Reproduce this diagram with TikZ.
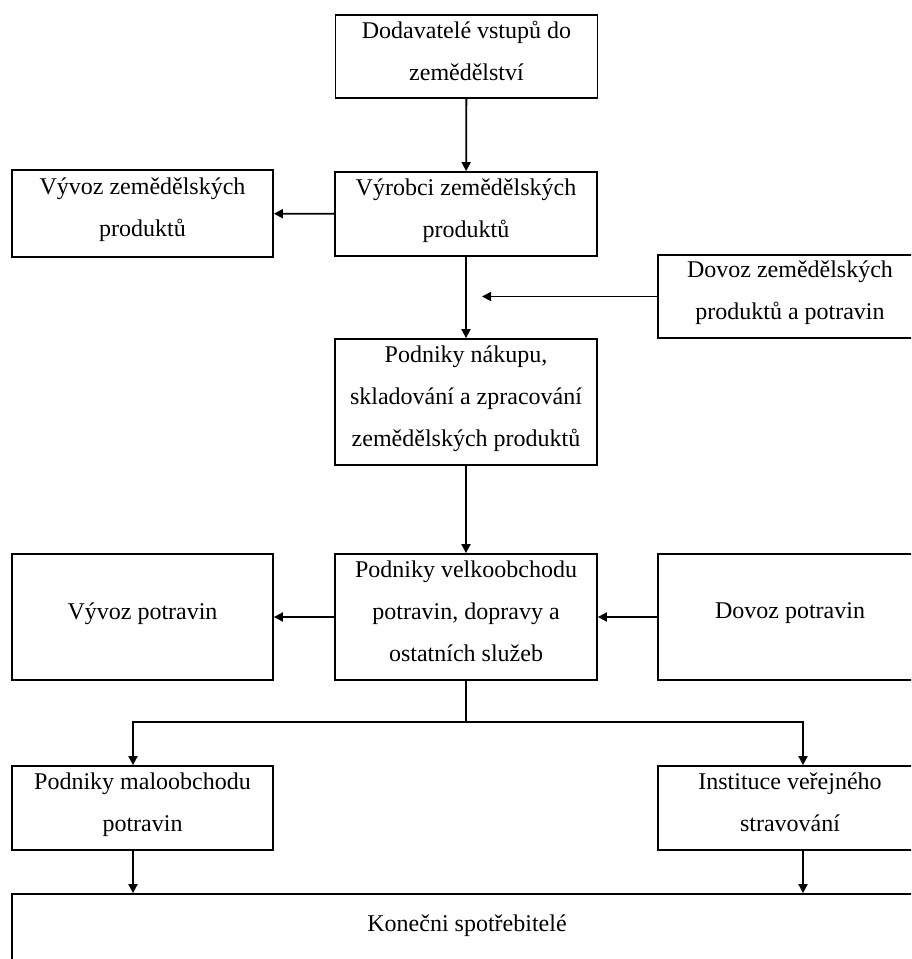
\documentclass[tikz,border=0pt]{standalone}
\usepackage{fontspec}
\setmainfont{Liberation Serif}
\usetikzlibrary{arrows.meta}

\tikzset{
    box/.style={draw, line width=0.9pt, align=center, inner sep=2pt,
        text depth=6pt, font=\fontsize{12}{21}\selectfont},
    arr/.style={line width=0.9pt, -{Triangle[length=4.5pt,width=4.5pt]}}
}

\begin{document}
\begin{tikzpicture}[x=0.5pt,y=-0.5pt]
    % Frame
    \useasboundingbox (0,0) rectangle (911,959);
    \clip (0,0) rectangle (911,959);

    % Boxes
    \node[box, minimum width=131pt, minimum height=41.5pt] (sup) at (466.5,56.5)
        {Dodavatelé vstupů do\\zemědělství};
    \node[box, minimum width=131pt, minimum height=42pt] (prod) at (466,214)
        {Výrobci zemědělských\\produktů};
    \node[box, minimum width=130.5pt, minimum height=43.5pt] (expag) at (142.5,213.5)
        {Vývoz zemědělských\\produktů};
    \node[box, minimum width=132pt, minimum height=41.5pt] (impag) at (790,296.5)
        {Dovoz zemědělských\\produktů a potravin};
    \node[box, minimum width=131pt, minimum height=63pt] (proc) at (466,402)
        {Podniky nákupu,\\skladování a zpracování\\zemědělských produktů};
    \node[box, minimum width=130.5pt, minimum height=63pt] (expfood) at (142.5,617)
        {Vývoz potravin};
    \node[box, minimum width=131pt, minimum height=63pt] (whole) at (466,617)
        {Podniky velkoobchodu\\potravin, dopravy a\\ostatních služeb};
    \node[box, minimum width=132pt, minimum height=63pt] (impfood) at (790,617)
        {Dovoz potravin};
    \node[box, minimum width=130.5pt, minimum height=42pt] (retail) at (142.5,808)
        {Podniky maloobchodu\\potravin};
    \node[box, minimum width=132pt, minimum height=42pt] (catering) at (790,808)
        {Instituce veřejného\\stravování};
    \node[box, minimum width=455pt, minimum height=35pt] (cons) at (467,929)
        {Konečni spotřebitelé};

    % Free ends
    \coordinate (tipag) at (482,296.5);
    \coordinate (brL) at (133,722);
    \coordinate (brR) at (803,722);

    % Arrows
    \draw[arr] (sup) -- (prod);
    \draw[arr] (prod) -- (expag);
    \draw[arr] (prod) -- (proc);
    \draw[arr] (impag) -- (tipag);
    \draw[arr] (proc) -- (whole);
    \draw[arr] (whole) -- (expfood);
    \draw[arr] (impfood) -- (whole);

    % Branch to retail and catering
    \draw[arr] (whole.south) |- (brL) -- (brL |- retail.north);
    \draw[arr] (whole.south) |- (brR) -- (brR |- catering.north);
    \draw[arr] (brL |- retail.south) -- (brL |- cons.north);
    \draw[arr] (brR |- catering.south) -- (brR |- cons.north);
\end{tikzpicture}
\end{document}
